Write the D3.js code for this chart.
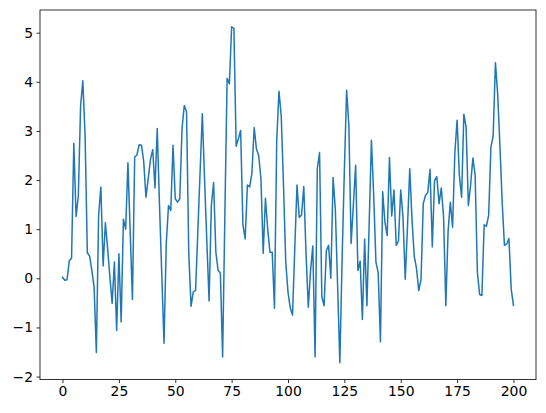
<!DOCTYPE html>
<html>
<head>
<meta charset="utf-8">
<script src="https://cdn.jsdelivr.net/npm/d3@7"></script>
<style>
  html, body { margin: 0; padding: 0; background: #fff; }
  svg { display: block; }
</style>
</head>
<body>
<svg id="chart" width="546" height="413"></svg>
<script>
const values = [
  0.02, -0.04, -0.03, 0.36, 0.41, 2.75, 1.26, 1.67, 3.5, 4.02,
  2.9, 0.52, 0.45, 0.16, -0.18, -1.51, 1.28, 1.86, 0.25, 1.13,
  0.6, 0.03, -0.51, 0.33, -1.06, 0.5, -0.89, 1.2, 1.0, 2.35,
  0.95, -0.43, 2.47, 2.51, 2.72, 2.71, 2.38, 1.65, 2.03, 2.42,
  2.62, 1.84, 3.05, 1.5, 0.1, -1.32, 0.7, 1.48, 1.38, 2.71,
  1.62, 1.55, 1.62, 3.05, 3.52, 3.39, 0.5, -0.57, -0.27, -0.25,
  0.95, 2.15, 3.35, 2.0, 0.75, -0.46, 1.48, 1.95, 0.53, 0.16,
  0.11, -1.6, 1.3, 4.07, 3.96, 5.12, 5.09, 2.69, 2.84, 3.01,
  1.1, 0.8, 1.9, 1.86, 2.14, 3.07, 2.63, 2.5, 2.03, 0.51,
  1.63, 1.0, 0.53, 0.53, -0.61, 2.8, 3.81, 3.3, 1.9, 0.33,
  -0.28, -0.6, -0.75, 0.6, 1.9, 1.24, 1.29, 1.87, 0.5, -0.59,
  0.15, 0.66, -1.6, 2.24, 2.56, -0.37, -0.56, 0.56, 0.67, 0.0,
  2.05, 1.4, -0.15, -1.72, 0.4, 2.2, 3.83, 3.1, 0.71, 1.5,
  2.3, 0.16, 0.35, -0.84, 0.8, -0.56, 1.1, 2.81, 1.7, 0.33,
  0.12, -1.29, 1.76, 1.14, 0.87, 2.46, 1.27, 1.8, 0.67, 0.76,
  1.8, 1.25, -0.02, 1.05, 2.23, 1.2, 0.45, 0.2, -0.25, -0.02,
  1.52, 1.69, 1.75, 2.22, 0.64, 1.99, 2.07, 1.52, 1.84, 1.25,
  -0.56, 0.95, 1.55, 1.04, 2.55, 3.22, 2.1, 1.65, 3.34, 3.08,
  1.48, 1.9, 2.45, 2.1, 0.12, -0.33, -0.35, 1.09, 1.06, 1.28,
  2.67, 2.9, 4.39, 3.75, 2.7, 1.55, 0.67, 0.7, 0.81, -0.22,
  -0.55
];
const xTicks = [0, 25, 50, 75, 100, 125, 150, 175, 200];
const yTicks = [-2, -1, 0, 1, 2, 3, 4, 5];

const svg = d3.select("#chart");
const mLeft = 40, mTop = 10, plotW = 496, plotH = 369.6;

const n = values.length;
const xPad = (n - 1) * 0.05;
const x = d3.scaleLinear().domain([-xPad, (n - 1) + xPad]).range([mLeft, mLeft + plotW]);
const yMin = d3.min(values), yMax = d3.max(values);
const yPad = (yMax - yMin) * 0.05;
const y = d3.scaleLinear().domain([yMin - yPad, yMax + yPad]).range([mTop + plotH, mTop]);

svg.append("rect").attr("width", 546).attr("height", 413).attr("fill", "#fff");

const line = d3.line().x((d, i) => x(i)).y(d => y(d));
svg.append("path")
  .datum(values)
  .attr("d", line)
  .attr("fill", "none")
  .attr("stroke", "#1f77b4")
  .attr("stroke-width", 1.5)
  .attr("stroke-linejoin", "round")
  .attr("stroke-linecap", "square");

const fmt = d3.format("d");
const xAxis = svg.append("g")
  .attr("transform", `translate(0,${mTop + plotH})`)
  .call(d3.axisBottom(x).tickValues(xTicks).tickFormat(fmt).tickSize(3.5).tickPadding(3.5));
const yAxis = svg.append("g")
  .attr("transform", `translate(${mLeft},0)`)
  .call(d3.axisLeft(y).tickValues(yTicks).tickFormat(fmt).tickSize(3.5).tickPadding(3.5));

[xAxis, yAxis].forEach(g => {
  g.select(".domain").remove();
  g.selectAll(".tick line").attr("stroke", "#000").attr("stroke-width", 0.8);
  g.selectAll(".tick text")
    .attr("fill", "#000")
    .style("font-family", "'DejaVu Sans', sans-serif")
    .style("font-size", "13.9px");
});

svg.append("rect")
  .attr("x", mLeft).attr("y", mTop)
  .attr("width", plotW).attr("height", plotH)
  .attr("fill", "none")
  .attr("stroke", "#000")
  .attr("stroke-width", 0.8);
</script>
</body>
</html>
